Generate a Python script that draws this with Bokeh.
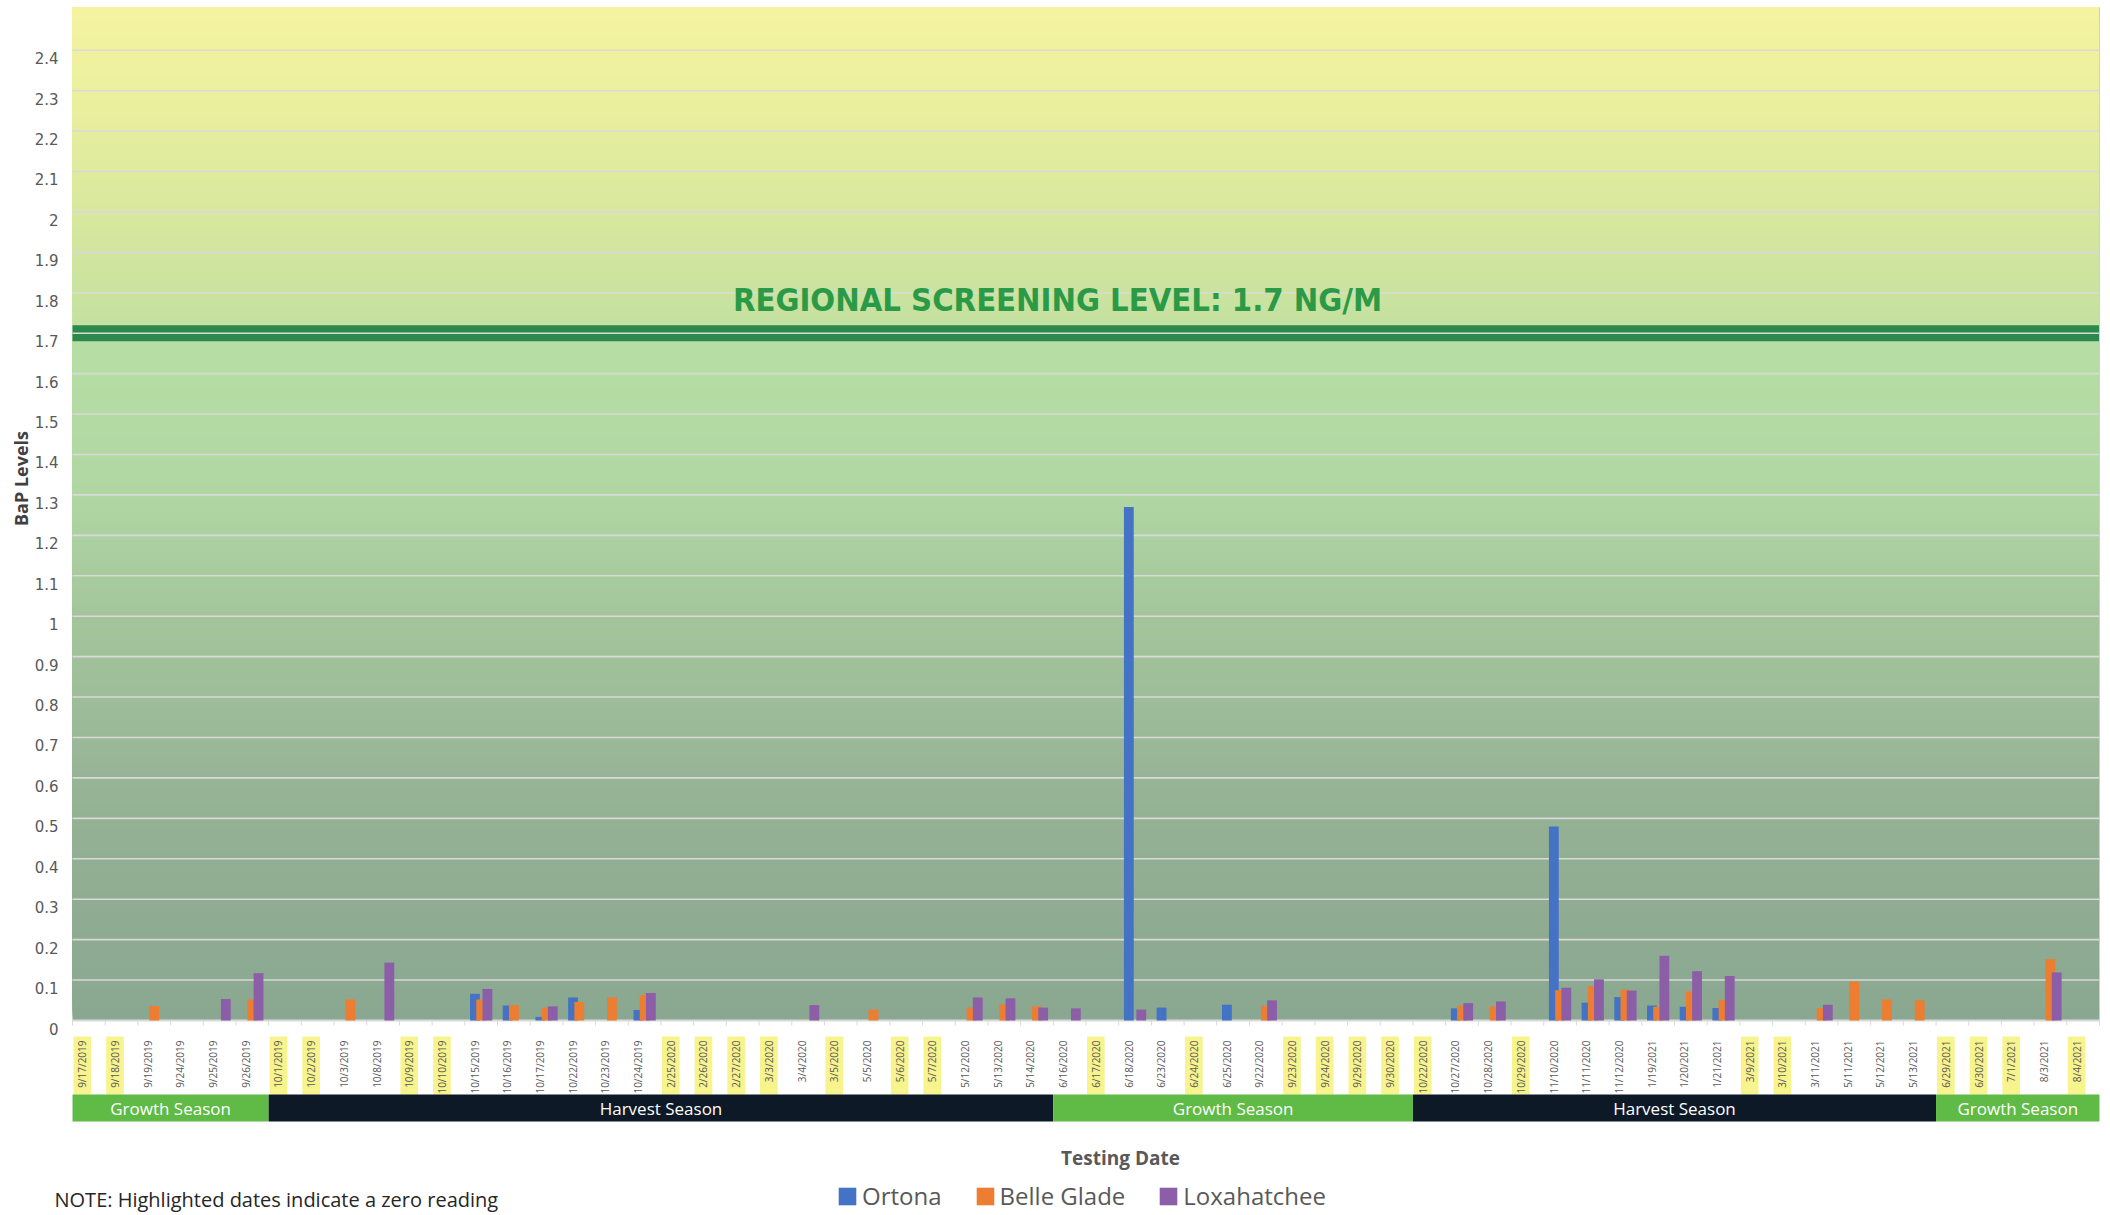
import numpy as np
from bokeh.plotting import figure
from bokeh.models import Range1d, Legend, LegendItem, ColumnDataSource
from bokeh.core.properties import value
from bokeh.embed import file_html
from bokeh.resources import INLINE

# ---------------- data ----------------
dates = ["9/17/2019", "9/18/2019", "9/19/2019", "9/24/2019", "9/25/2019", "9/26/2019",
         "10/1/2019", "10/2/2019", "10/3/2019", "10/8/2019", "10/9/2019", "10/10/2019",
         "10/15/2019", "10/16/2019", "10/17/2019", "10/22/2019", "10/23/2019", "10/24/2019",
         "2/25/2020", "2/26/2020", "2/27/2020", "3/3/2020", "3/4/2020", "3/5/2020",
         "5/5/2020", "5/6/2020", "5/7/2020", "5/12/2020", "5/13/2020", "5/14/2020",
         "6/16/2020", "6/17/2020", "6/18/2020", "6/23/2020", "6/24/2020", "6/25/2020",
         "9/22/2020", "9/23/2020", "9/24/2020", "9/29/2020", "9/30/2020", "10/22/2020",
         "10/27/2020", "10/28/2020", "10/29/2020", "11/10/2020", "11/11/2020", "11/12/2020",
         "1/19/2021", "1/20/2021", "1/21/2021", "3/9/2021", "3/10/2021", "3/11/2021",
         "5/11/2021", "5/12/2021", "5/13/2021", "6/29/2021", "6/30/2021", "7/1/2021",
         "8/3/2021", "8/4/2021"]

zero_reading_dates = ["9/17/2019", "9/18/2019", "10/1/2019", "10/2/2019", "10/9/2019", "10/10/2019",
                      "2/25/2020", "2/26/2020", "2/27/2020", "3/3/2020", "3/5/2020", "5/6/2020",
                      "5/7/2020", "6/17/2020", "6/24/2020", "9/23/2020", "9/24/2020", "9/29/2020",
                      "9/30/2020", "10/22/2020", "10/29/2020", "3/9/2021", "3/10/2021", "6/29/2021",
                      "6/30/2021", "7/1/2021", "8/4/2021"]

ortona = [0, 0, 0, 0, 0, 0,
          0, 0, 0, 0, 0, 0,
          0.066, 0.037, 0.009, 0.057, 0, 0.026,
          0, 0, 0, 0, 0, 0,
          0, 0, 0, 0, 0, 0,
          0, 0, 1.27, 0.032, 0, 0.039,
          0, 0, 0, 0, 0, 0,
          0.030, 0, 0, 0.48, 0.044, 0.058,
          0.037, 0.034, 0.031, 0, 0, 0,
          0, 0, 0, 0, 0, 0,
          0, 0]

belle_glade = [0, 0, 0.036, 0, 0, 0.052,
               0, 0, 0.052, 0, 0, 0,
               0.052, 0.038, 0.032, 0.046, 0.057, 0.063,
               0, 0, 0, 0, 0, 0,
               0.027, 0, 0, 0.032, 0.040, 0.035,
               0, 0, 0, 0, 0, 0,
               0.036, 0, 0, 0, 0, 0,
               0.037, 0.035, 0, 0.075, 0.085, 0.076,
               0.034, 0.072, 0.051, 0, 0, 0.031,
               0.096, 0.052, 0.050, 0, 0, 0,
               0.152, 0]

loxahatchee = [0, 0, 0, 0, 0.053, 0.117,
               0, 0, 0, 0.143, 0, 0,
               0.078, 0, 0.035, 0, 0, 0.068,
               0, 0, 0, 0, 0.038, 0,
               0, 0, 0, 0.057, 0.055, 0.032,
               0.030, 0, 0.027, 0, 0, 0,
               0.050, 0, 0, 0, 0, 0,
               0.043, 0.047, 0, 0.081, 0.102, 0.074,
               0.160, 0.122, 0.110, 0, 0, 0.039,
               0, 0, 0, 0, 0, 0,
               0.119, 0]

season_names = ["Growth Season", "Harvest Season", "Growth Season", "Harvest Season", "Growth Season"]
season_first = ["9/17/2019", "10/1/2019", "6/16/2020", "10/22/2020", "6/29/2021"]
season_last = ["9/26/2019", "5/14/2020", "9/30/2020", "5/13/2021", "8/4/2021"]

y_ticks = [0, 0.1, 0.2, 0.3, 0.4, 0.5, 0.6, 0.7, 0.8, 0.9, 1.0, 1.1, 1.2,
           1.3, 1.4, 1.5, 1.6, 1.7, 1.8, 1.9, 2.0, 2.1, 2.2, 2.3, 2.4]
y_tick_labels = ["0", "0.1", "0.2", "0.3", "0.4", "0.5", "0.6", "0.7", "0.8", "0.9", "1",
                 "1.1", "1.2", "1.3", "1.4", "1.5", "1.6", "1.7", "1.8", "1.9", "2",
                 "2.1", "2.2", "2.3", "2.4"]

screening_level = 1.7
screening_text = "REGIONAL SCREENING LEVEL: 1.7 NG/M"
series_names = ["Ortona", "Belle Glade", "Loxahatchee"]
series_colors = ["#4472c4", "#ed7d31", "#8c5ea8"]

# ---------------- geometry ----------------
W, H = 2110, 1215
N = len(dates)
X0 = 72.0                      # pixel of category axis start
PX_X = 2027.0 / N              # pixels per category
Y0 = 1020.0                    # pixel of value 0
PX_Y = 404.3                   # pixels per unit

def xd(px):
    return (px - X0) / PX_X

def yd(py):
    return (Y0 - py) / PX_Y

x_start, x_end = xd(0), xd(W)
y_start, y_end = yd(H), yd(7)

p = figure(width=W, height=H, output_backend="svg", toolbar_location=None,
           x_axis_type=None, y_axis_type=None,
           x_range=Range1d(x_start, x_end), y_range=Range1d(y_start, yd(0)),
           min_border=0, min_border_left=0, min_border_right=0,
           min_border_top=0, min_border_bottom=0)
p.outline_line_color = None
p.background_fill_color = "white"
p.border_fill_color = "white"

# ---------------- background gradient ----------------
def hex2rgb(h):
    h = h.lstrip("#")
    return np.array([int(h[i:i + 2], 16) for i in (0, 2, 4)], dtype=float)

def interp_color(yv, stops):
    ys = [s[0] for s in stops]
    cs = [hex2rgb(s[1]) for s in stops]
    for k in range(len(stops) - 1):
        if ys[k] <= yv <= ys[k + 1]:
            t = (yv - ys[k]) / (ys[k + 1] - ys[k])
            c = cs[k] * (1 - t) + cs[k + 1] * t
            return "#%02x%02x%02x" % tuple(int(round(v)) for v in c)
    c = cs[0] if yv < ys[0] else cs[-1]
    return "#%02x%02x%02x" % tuple(int(v) for v in c)

lower_stops = [(0.0, "#8aa791"), (0.5, "#94b194"), (1.0, "#a4c59c"), (1.3, "#b0d7a2"), (1.7, "#b7dea4")]
upper_stops = [(1.7, "#c3e0a0"), (2.0, "#d8e89e"), (2.3, "#ecf09e"), (y_end, "#f5f3a0")]

step = 0.01
lb = np.arange(0, screening_level, step)
p.quad(left=0, right=N, bottom=lb, top=screening_level,
       fill_color=[interp_color(b + step / 2, lower_stops) for b in lb], line_color=None)
ub = np.arange(screening_level, y_end, step)
p.quad(left=0, right=N, bottom=ub, top=y_end,
       fill_color=[interp_color(b + step / 2, upper_stops) for b in ub], line_color=None)

# screening level band
band = 16.0 / PX_Y
p.quad(left=0, right=N, bottom=screening_level - band / 2, top=screening_level + band / 2,
       fill_color="#2b8a4b", line_color=None)

# gridlines
grid_y = y_ticks[1:]
p.segment(x0=0, x1=N, y0=grid_y, y1=grid_y, line_color="#d9d9d9", line_width=1.6)
# baseline and ticks
p.segment(x0=0, x1=N, y0=0, y1=0, line_color="#d9d9d9", line_width=2)
tick_x = list(range(N + 1))
p.segment(x0=tick_x, x1=tick_x, y0=0, y1=yd(Y0 + 5), line_color="#d9d9d9", line_width=1)
p.segment(x0=N, x1=N, y0=0, y1=y_end, line_color="#cfcfcf", line_width=1)

# ---------------- bars ----------------
idx = np.arange(N)
offsets = [-0.19, 0.0, 0.19]
renderers = []
for vals, off, col in zip([ortona, belle_glade, loxahatchee], offsets, series_colors):
    src = ColumnDataSource(dict(x=idx + 0.5 + off, top=vals))
    r = p.vbar(x="x", top="top", bottom=0, width=0.3, source=src, fill_color=col, line_color=None)
    renderers.append(r)

# ---------------- labels ----------------
hl_idx = [dates.index(d) for d in zero_reading_dates]
p.quad(left=[i + 0.03 for i in hl_idx], right=[i + 0.57 for i in hl_idx],
       top=yd(1036), bottom=yd(1094), fill_color="#f7f38d", line_color=None)
p.text(x=idx + 0.3, y=yd(1040), text=dates, angle=np.pi / 2,
       text_align="right", text_baseline="middle", text_font=value("Open Sans"),
       text_font_size="10px", text_color="#595959")

s_left = [dates.index(d) for d in season_first]
s_right = [dates.index(d) + 1 for d in season_last]
s_colors = ["#5fba46" if n.startswith("Growth") else "#0d1926" for n in season_names]
p.quad(left=s_left, right=s_right, top=yd(1094), bottom=yd(1121), fill_color=s_colors, line_color=None)
p.text(x=[(a + b) / 2 for a, b in zip(s_left, s_right)], y=yd(1107.5), text=season_names,
       text_align="center", text_baseline="middle", text_font=value("Open Sans"),
       text_font_size="17px", text_color="white")

# y tick labels
p.text(x=xd(58), y=[t - 8 / PX_Y for t in y_ticks], text=y_tick_labels,
       text_align="right", text_baseline="middle", text_font=value("DejaVu Sans"),
       text_font_size="15px", text_color="#595959")

p.text(x=[xd(20)], y=[yd(478)], text=["BaP Levels"], angle=np.pi / 2,
       text_align="center", text_baseline="middle", text_font=value("Open Sans"),
       text_font_style="bold", text_font_size="18px", text_color="#404040")

p.text(x=[xd(1057)], y=[yd(299.5)], text=[screening_text],
       text_align="center", text_baseline="middle",
       text_font=value("'Liberation Sans Narrow', 'DejaVu Sans Condensed', 'Open Sans'"),
       text_font_style="bold", text_font_size="32.5px", text_color="#2a9a47")

p.text(x=[xd(1120)], y=[yd(1157)], text=["Testing Date"],
       text_align="center", text_baseline="middle", text_font=value("Open Sans"),
       text_font_style="bold", text_font_size="19px", text_color="#595959")

p.text(x=[xd(54)], y=[yd(1212)], text=["NOTE: Highlighted dates indicate a zero reading"],
       text_align="left", text_baseline="bottom", text_font=value("Open Sans"),
       text_font_size="20px", text_color="#262626")

legend = Legend(items=[LegendItem(label=n, renderers=[r]) for n, r in zip(series_names, renderers)],
                location=(836, 3), orientation="horizontal",
                glyph_width=22, glyph_height=22, label_standoff=4, spacing=32,
                padding=0, margin=0, border_line_color=None, background_fill_alpha=0,
                label_text_font="Open Sans", label_text_font_size="24px",
                label_text_color="#595959")
p.add_layout(legend)

open("out.html", "w").write(file_html(p, INLINE))
